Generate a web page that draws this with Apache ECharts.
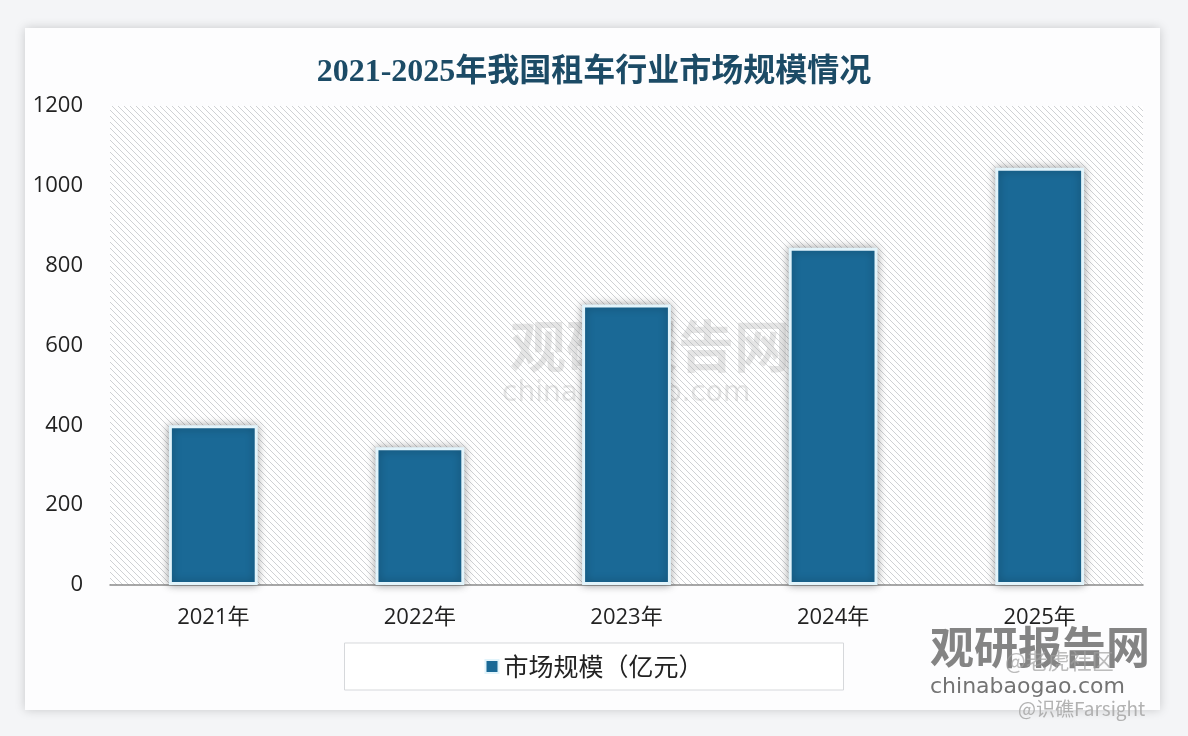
<!DOCTYPE html>
<html><head><meta charset="utf-8">
<script src="https://cdn.jsdelivr.net/npm/echarts@6/dist/echarts.min.js"></script>
<style>html,body{margin:0;padding:0;background:#f4f5f7;}#c{width:1188px;height:736px;}</style>
</head><body><div id="c"></div>
<script>
const categories = ['2021年','2022年','2023年','2024年','2025年'];
const marketSize = [400, 345, 703, 845, 1045];
const seriesName = '市场规模（亿元）';
const titleText = '2021-2025年我国租车行业市场规模情况';
const yTicks = {min: 0, max: 1200, interval: 200};

// hatch pattern for plot background
const pc = document.createElement('canvas');
pc.width = 6; pc.height = 6;
const px = pc.getContext('2d');
px.fillStyle = '#ffffff'; px.fillRect(0,0,6,6);
px.strokeStyle = '#cfd1d4'; px.lineWidth = 1;
px.beginPath();
px.moveTo(0,0); px.lineTo(6,6);
px.moveTo(-3,3); px.lineTo(3,9);
px.moveTo(3,-3); px.lineTo(9,3);
px.stroke();

const chart = echarts.init(document.getElementById('c'));
chart.setOption({
  backgroundColor: '#f4f5f7',
  animation: false,
  graphic: [
    {type:'rect', left: 25, top: 28, z: -10, shape:{width:1135, height:682},
     style:{fill:'#fdfdfe', shadowBlur:10, shadowColor:'rgba(0,0,0,0.18)'}},
    {type:'text', left: 510, top: 318, z: 1, style:{text:'观研报告网', fill:'rgba(170,170,170,0.3)', font:'bold 56px "Noto Sans CJK SC"'}},
    {type:'text', left: 502, top: 380, z: 1, style:{text:'chinabaogao.com', fill:'rgba(170,170,170,0.3)', font:'28px "DejaVu Sans"'}},
    {type:'text', left: 930, top: 625, z: 100, style:{text:'观研报告网', fill:'rgba(110,110,110,0.85)', font:'bold 44px "Noto Sans CJK SC"'}},
    {type:'text', left: 930, top: 676, z: 100, style:{text:'chinabaogao.com', fill:'rgba(100,100,100,0.9)', font:'22px "DejaVu Sans"'}},
    {type:'text', left: 1005, top: 650, z: 101, style:{text:'@老虎社区', fill:'rgba(160,160,160,0.7)', font:'22px "Noto Sans CJK SC"'}},
    {type:'text', left: 1018, top: 699, z: 101, style:{text:'@识礁Farsight', fill:'rgba(170,170,170,0.9)', font:'19px "Noto Sans CJK SC"'}}
  ],
  title: {
    text: titleText, left: 'center', top: 52,
    textStyle: {fontFamily: '"Liberation Serif", "Noto Sans CJK SC"', fontWeight: 'bold', fontSize: 32, color: '#1c4b66'}
  },
  grid: {left: 110, right: 45, top: 106, bottom: 151, show: true, borderWidth: 0,
         backgroundColor: {image: pc, repeat: 'repeat'}},
  legend: {
    data: [seriesName], bottom: 46, left: 'center',
    padding: [11, 140, 11, 140],
    borderColor: '#d6d8db', borderWidth: 1, backgroundColor: '#ffffff',
    itemWidth: 13, itemHeight: 13, icon: 'rect', itemGap: 6,
    textStyle: {fontSize: 25, color: '#222', fontFamily: '"Noto Sans CJK SC"'}
  },
  xAxis: {
    type: 'category', data: categories,
    axisLine: {lineStyle: {color: '#8a8a8a', width: 1.5}},
    axisTick: {show: false},
    axisLabel: {fontSize: 22, color: '#222', margin: 22, fontFamily: '"Open Sans", "Noto Sans CJK SC"'}
  },
  yAxis: {
    type: 'value', min: yTicks.min, max: yTicks.max, interval: yTicks.interval,
    splitLine: {show: false},
    axisLine: {show: false}, axisTick: {show: false},
    axisLabel: {fontSize: 22, color: '#222', margin: 27, fontFamily: '"Open Sans"', formatter: v => String(v)}
  },
  series: [{
    name: seriesName, type: 'bar', data: marketSize, barWidth: '43%', z: 3,
    itemStyle: {color: '#1a6996', borderColor: '#e2f4fb', borderWidth: 3,
                shadowBlur: 8, shadowColor: 'rgba(0,0,0,0.35)'}
  }]
});
</script></body></html>
